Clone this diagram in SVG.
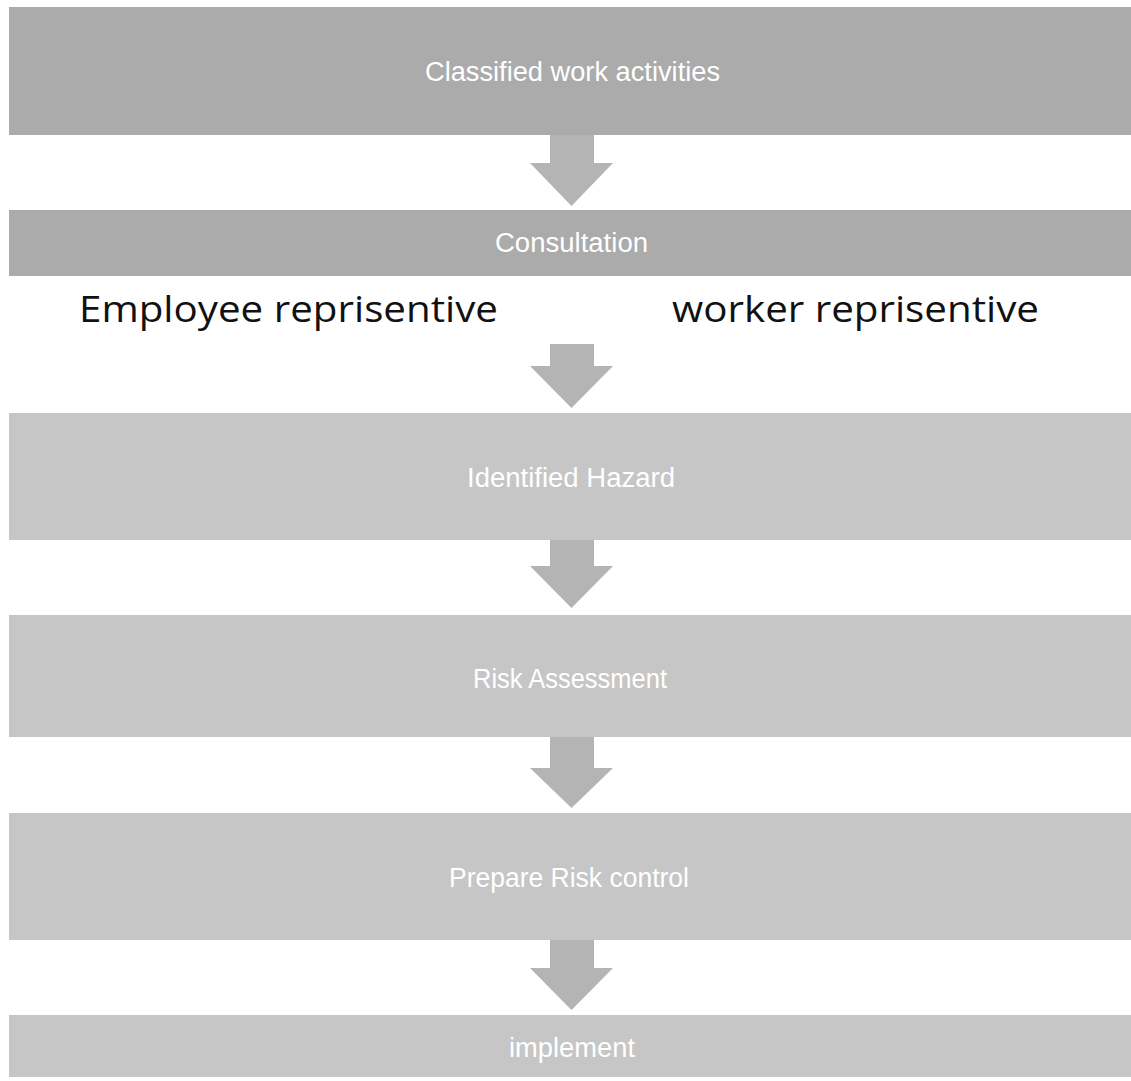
<svg xmlns="http://www.w3.org/2000/svg" width="1131" height="1081" viewBox="0 0 1131 1081">
<style>
.dark{fill:#ababab}
.light{fill:#c6c6c6}
.arr{fill:#b4b4b4}
.lbl{fill:#ffffff;font-family:"Liberation Sans Narrow","Liberation Sans",sans-serif;font-size:27px;text-anchor:start}
.big{fill:#111111;font-family:"Open Sans","Liberation Sans",sans-serif;font-size:37px}
</style>
<rect width="1131" height="1081" fill="#ffffff"/>
<g id="connectors">
<path class="arr" d="M550,130 L594,130 L594,163 L613,163 L571.5,206 L530,163 L550,163 Z"/>
<path class="arr" d="M550,344 L594,344 L594,366 L613,366 L571.5,408 L530,366 L550,366 Z"/>
<path class="arr" d="M550,535 L594,535 L594,566 L613,566 L571.5,608 L530,566 L550,566 Z"/>
<path class="arr" d="M550,732 L594,732 L594,768 L613,768 L571.5,808 L530,768 L550,768 Z"/>
<path class="arr" d="M550,935 L594,935 L594,968 L613,968 L571.5,1010 L530,968 L550,968 Z"/>
</g>
<g id="n1"><rect class="dark" x="9" y="7" width="1122" height="128"/><text class="lbl" x="425" y="81" textLength="295" lengthAdjust="spacingAndGlyphs">Classified work activities</text></g>
<g id="n2"><rect class="dark" x="9" y="210" width="1122" height="66"/><text class="lbl" x="495" y="252" textLength="153" lengthAdjust="spacingAndGlyphs">Consultation</text></g>
<g id="n2a"><text class="big" x="79" y="322" textLength="419" lengthAdjust="spacingAndGlyphs">Employee reprisentive</text></g>
<g id="n2b"><text class="big" x="672" y="322" textLength="367" lengthAdjust="spacingAndGlyphs">worker reprisentive</text></g>
<g id="n3"><rect class="light" x="9" y="413" width="1122" height="127"/><text class="lbl" x="467" y="487" textLength="208" lengthAdjust="spacingAndGlyphs">Identified Hazard</text></g>
<g id="n4"><rect class="light" x="9" y="615" width="1122" height="122"/><text class="lbl" x="473" y="688" textLength="194" lengthAdjust="spacingAndGlyphs">Risk Assessment</text></g>
<g id="n5"><rect class="light" x="9" y="813" width="1122" height="127"/><text class="lbl" x="449" y="887" textLength="240" lengthAdjust="spacingAndGlyphs">Prepare Risk control</text></g>
<g id="n6"><rect class="light" x="9" y="1015" width="1122" height="62"/><text class="lbl" x="509" y="1057" textLength="126" lengthAdjust="spacingAndGlyphs">implement</text></g>
</svg>
